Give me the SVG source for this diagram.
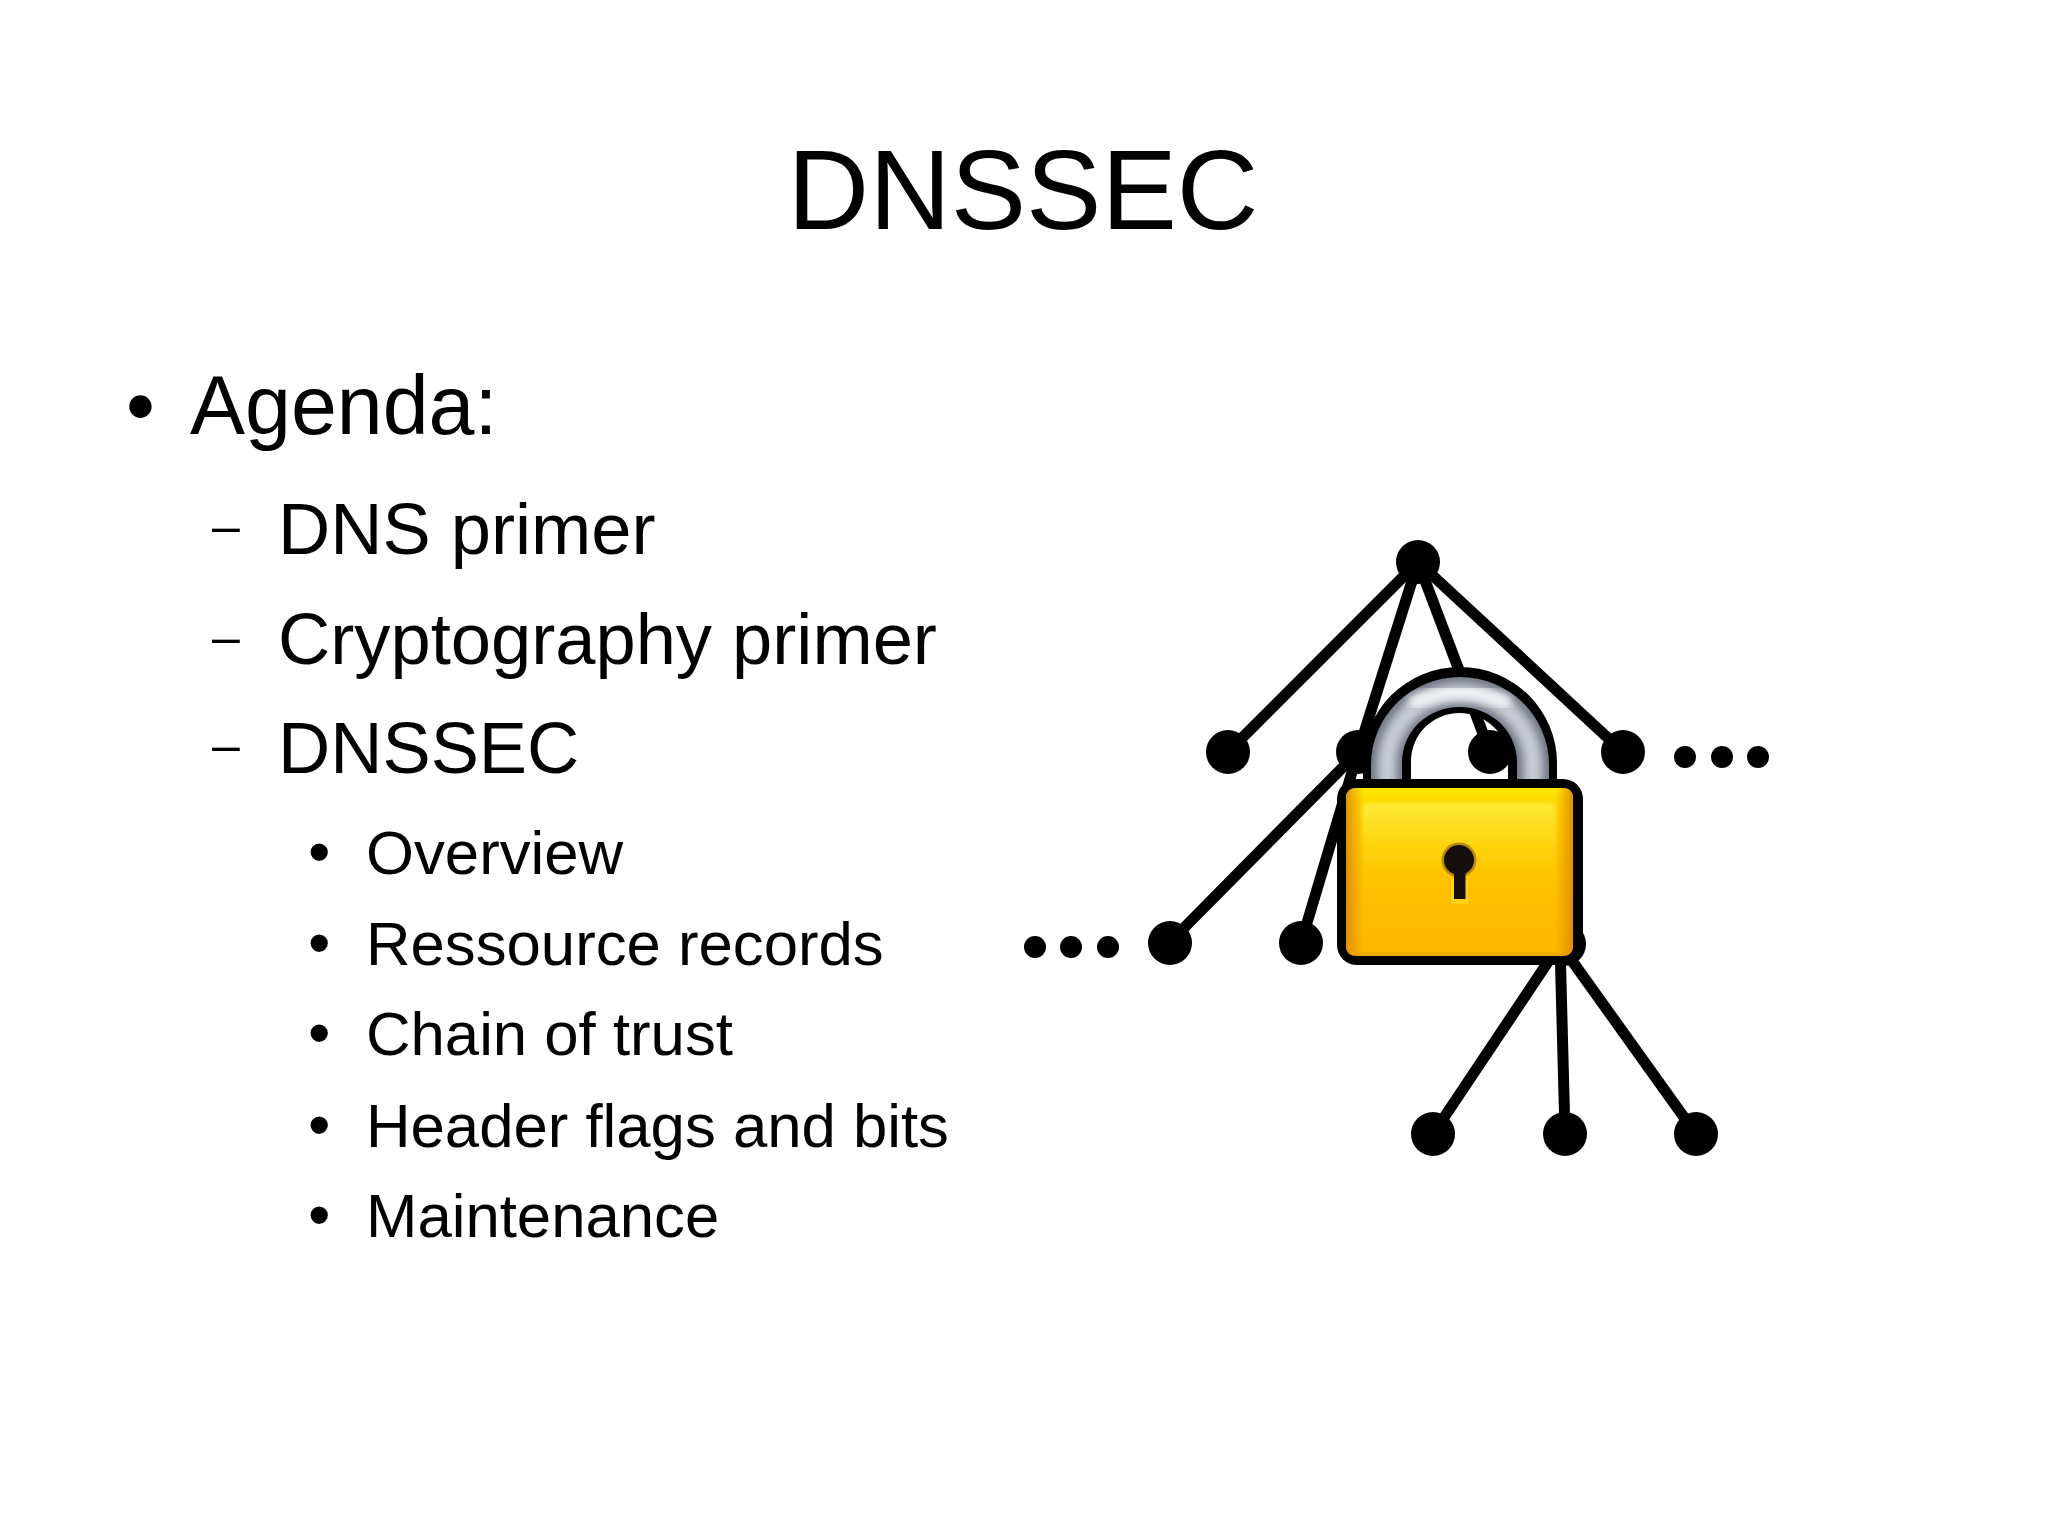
<svg xmlns="http://www.w3.org/2000/svg" width="2048" height="1535" viewBox="0 0 2048 1535">
<style>
text{font-family:"Liberation Sans",Arial,sans-serif;fill:#000}
.t{font-size:113px}.l1{font-size:82.5px}.l2{font-size:72.3px}.l3{font-size:61.7px}
.d2{font-size:50px}.b3{font-size:64px}
.edge{stroke:#000;stroke-width:11;fill:none}
.n{fill:#000}
</style>
<defs>
<linearGradient id="base" x1="0" x2="0" y1="0" y2="1"><stop offset="0" stop-color="#ffea00"/><stop offset=".08" stop-color="#ffd800"/><stop offset=".5" stop-color="#ffc000"/><stop offset=".97" stop-color="#fdb800"/><stop offset="1" stop-color="#e8a000"/></linearGradient>
<linearGradient id="sides" x1="0" x2="1" y1="0" y2="0"><stop offset="0" stop-color="#dc8a00" stop-opacity=".9"/><stop offset=".08" stop-color="#e89a00" stop-opacity="0"/><stop offset=".92" stop-color="#e89a00" stop-opacity="0"/><stop offset="1" stop-color="#dc8a00" stop-opacity=".9"/></linearGradient>
<linearGradient id="face" x1="0" x2="0" y1="0" y2="1"><stop offset="0" stop-color="#ffec3a"/><stop offset=".35" stop-color="#ffd40f" stop-opacity=".7"/><stop offset=".7" stop-color="#ffc000" stop-opacity="0"/></linearGradient>
<filter id="b2" x="-20%" y="-20%" width="140%" height="140%"><feGaussianBlur stdDeviation="2"/></filter>
<filter id="b4" x="-20%" y="-30%" width="140%" height="160%"><feGaussianBlur stdDeviation="4"/></filter>
<clipPath id="body"><rect x="1346" y="788" width="227" height="168" rx="9"/></clipPath>
<clipPath id="band"><path d="M1371 790V765A89 88 0 0 1 1549 765V790H1517V762A57.5 55 0 0 0 1402 762V790Z"/></clipPath>
</defs>
<rect width="2048" height="1535" fill="#fff"/>
<g id="title"><text class="t" x="1023" y="229" text-anchor="middle">DNSSEC</text></g>
<g id="agenda">
<text class="l1" x="126" y="434">•</text><text class="l1" x="190" y="434">Agenda:</text>
<text class="d2" x="212" y="543">–</text><text class="l2" x="278" y="554">DNS primer</text>
<text class="d2" x="212" y="654">–</text><text class="l2" x="278" y="664">Cryptography primer</text>
<text class="d2" x="212" y="762">–</text><text class="l2" x="278" y="773">DNSSEC</text>
<text class="b3" x="308" y="874">•</text><text class="l3" x="366" y="874">Overview</text>
<text class="b3" x="308" y="965">•</text><text class="l3" x="366" y="965">Ressource records</text>
<text class="b3" x="308" y="1055">•</text><text class="l3" x="366" y="1055">Chain of trust</text>
<text class="b3" x="308" y="1147">•</text><text class="l3" x="366" y="1147">Header flags and bits</text>
<text class="b3" x="308" y="1237">•</text><text class="l3" x="366" y="1237">Maintenance</text>
</g>
<g id="connectors">
<line class="edge" x1="1418" y1="562" x2="1228" y2="752"/>
<line class="edge" x1="1418" y1="562" x2="1358" y2="752"/>
<line class="edge" x1="1418" y1="562" x2="1490" y2="752"/>
<line class="edge" x1="1418" y1="562" x2="1623" y2="752"/>
<line class="edge" x1="1358" y1="752" x2="1169" y2="943"/>
<line class="edge" x1="1358" y1="752" x2="1301" y2="943"/>
<line class="edge" x1="1560" y1="944" x2="1433" y2="1134"/>
<line class="edge" x1="1560" y1="944" x2="1565" y2="1134"/>
<line class="edge" x1="1560" y1="944" x2="1696" y2="1134"/>
</g>
<g id="node-root"><circle class="n" cx="1418" cy="562" r="22"/></g>
<g id="node-a1"><circle class="n" cx="1228" cy="752" r="22"/></g>
<g id="node-a2"><circle class="n" cx="1358" cy="752" r="22"/></g>
<g id="node-a3"><circle class="n" cx="1490" cy="752" r="22"/></g>
<g id="node-a4"><circle class="n" cx="1623" cy="752" r="22"/></g>
<g id="more-right"><circle class="n" cx="1685" cy="757" r="11"/><circle class="n" cx="1722" cy="757" r="11"/><circle class="n" cx="1758" cy="757" r="11"/></g>
<g id="node-b1"><circle class="n" cx="1170" cy="943" r="22"/></g>
<g id="node-b2"><circle class="n" cx="1301" cy="943" r="22"/></g>
<g id="node-b3"><circle class="n" cx="1564" cy="944" r="22"/></g>
<g id="more-left"><circle class="n" cx="1035" cy="947" r="11"/><circle class="n" cx="1071" cy="947" r="11"/><circle class="n" cx="1108" cy="947" r="11"/></g>
<g id="node-c1"><circle class="n" cx="1433" cy="1134" r="22"/></g>
<g id="node-c2"><circle class="n" cx="1565" cy="1134" r="22"/></g>
<g id="node-c3"><circle class="n" cx="1696" cy="1134" r="22"/></g>
<g id="padlock">
<path d="M1363 795V763A97 96 0 0 1 1557 763V795H1508V761A48.5 48 0 0 0 1411 761V795Z" fill="#000"/>
<g clip-path="url(#band)">
<rect x="1360" y="670" width="200" height="125" fill="#727884"/>
<path d="M1387 800V765A73 72 0 0 1 1533 765V800" fill="none" stroke="#c6cbd3" stroke-width="19" filter="url(#b4)"/>
<path d="M1410 704Q1460 680 1510 704" fill="none" stroke="#f2f3f5" stroke-width="13" filter="url(#b4)"/>
</g>
<rect x="1337" y="779" width="246" height="186" rx="20" fill="#000"/>
<rect x="1346" y="788" width="227" height="168" rx="9" fill="url(#base)"/>
<g clip-path="url(#body)">
<rect x="1362" y="803" width="194" height="141" rx="6" fill="url(#face)" filter="url(#b2)"/>
<rect x="1346" y="788" width="227" height="168" fill="url(#sides)"/>
</g>
<circle cx="1459" cy="860" r="17.5" fill="#b98a10"/>
<rect x="1451" y="880" width="17" height="24" fill="#ffd21a"/>
<circle cx="1459" cy="860" r="15" fill="#140f0a"/>
<rect x="1454" y="865" width="11.5" height="34" fill="#140f0a"/>
</g>
</svg>
